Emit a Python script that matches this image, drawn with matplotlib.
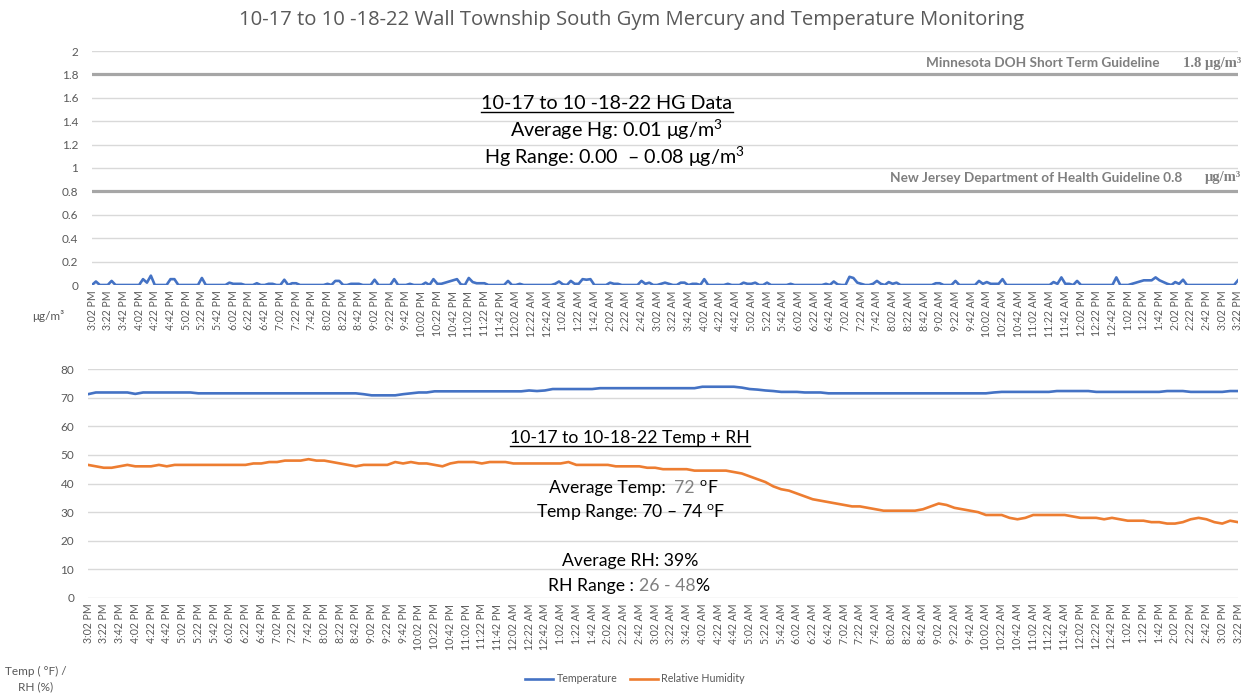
import numpy as np
import matplotlib
matplotlib.use("Agg")
import matplotlib.pyplot as plt
from matplotlib.lines import Line2D

# ---------------- data ----------------
time_labels = [
    "3:02 PM", "3:22 PM", "3:42 PM", "4:02 PM", "4:22 PM", "4:42 PM", "5:02 PM", "5:22 PM", "5:42 PM",
    "6:02 PM", "6:22 PM", "6:42 PM", "7:02 PM", "7:22 PM", "7:42 PM", "8:02 PM", "8:22 PM", "8:42 PM",
    "9:02 PM", "9:22 PM", "9:42 PM", "10:02 PM", "10:22 PM", "10:42 PM", "11:02 PM", "11:22 PM", "11:42 PM",
    "12:02 AM", "12:22 AM", "12:42 AM", "1:02 AM", "1:22 AM", "1:42 AM", "2:02 AM", "2:22 AM", "2:42 AM",
    "3:02 AM", "3:22 AM", "3:42 AM", "4:02 AM", "4:22 AM", "4:42 AM", "5:02 AM", "5:22 AM", "5:42 AM",
    "6:02 AM", "6:22 AM", "6:42 AM", "7:02 AM", "7:22 AM", "7:42 AM", "8:02 AM", "8:22 AM", "8:42 AM",
    "9:02 AM", "9:22 AM", "9:42 AM", "10:02 AM", "10:22 AM", "10:42 AM", "11:02 AM", "11:22 AM", "11:42 AM",
    "12:02 PM", "12:22 PM", "12:42 PM", "1:02 PM", "1:22 PM", "1:42 PM", "2:02 PM", "2:22 PM", "2:42 PM",
    "3:02 PM", "3:22 PM",
]

# mercury, ug/m3, one reading every 5 minutes
hg_values = [
    0, 0.03, 0, 0, 0, 0.035, 0, 0, 0, 0, 0, 0, 0, 0.05, 0.02, 0.08, 0, 0, 0, 0,
    0.05, 0.05, 0, 0, 0, 0, 0, 0, 0.06, 0, 0, 0, 0, 0, 0, 0.02, 0.01, 0.01, 0.01, 0,
    0, 0, 0.015, 0, 0, 0.01, 0.01, 0, 0, 0.045, 0, 0.015, 0.015, 0, 0, 0, 0, 0, 0, 0,
    0.01, 0, 0.035, 0.035, 0, 0, 0.01, 0.01, 0.01, 0, 0, 0, 0.045, 0, 0, 0, 0, 0.05, 0, 0,
    0, 0.01, 0, 0, 0, 0.02, 0, 0.05, 0.01, 0.01, 0.02, 0.03, 0.04, 0.05, 0.005, 0, 0.06, 0.025, 0.015, 0.015,
    0.015, 0, 0, 0, 0, 0, 0.035, 0, 0, 0.01, 0, 0, 0, 0, 0, 0, 0, 0, 0.01, 0.03,
    0.005, 0, 0.035, 0.01, 0.01, 0.05, 0.045, 0.05, 0, 0, 0, 0, 0.02, 0.01, 0.01, 0, 0, 0, 0, 0,
    0.035, 0.01, 0.02, 0, 0, 0.01, 0.02, 0.01, 0, 0, 0.02, 0.02, 0, 0.01, 0.01, 0, 0.05, 0, 0, 0,
    0, 0, 0.01, 0, 0, 0, 0.02, 0.01, 0.01, 0.02, 0, 0, 0.02, 0, 0, 0, 0, 0, 0.01, 0,
    0, 0, 0, 0, 0, 0, 0, 0.01, 0, 0.03, 0.005, 0, 0, 0.07, 0.06, 0.02, 0.01, 0, 0, 0.01,
    0.035, 0.01, 0, 0.025, 0.01, 0.02, 0, 0, 0, 0, 0, 0, 0, 0, 0, 0.015, 0.015, 0, 0, 0,
    0.035, 0, 0, 0, 0, 0, 0.035, 0.01, 0.025, 0.01, 0.01, 0.01, 0.05, 0, 0, 0, 0, 0, 0, 0,
    0, 0, 0, 0, 0, 0.025, 0.01, 0.065, 0.01, 0.01, 0, 0.035, 0, 0, 0, 0, 0, 0, 0, 0,
    0, 0.065, 0, 0, 0, 0.01, 0.02, 0.03, 0.04, 0.04, 0.04, 0.065, 0.04, 0.025, 0.01, 0, 0.025, 0.01, 0.045, 0,
    0, 0, 0, 0, 0, 0, 0, 0, 0, 0, 0, 0, 0.04,
]

# temperature (F) and relative humidity (%), one reading every 10 minutes
temperature = [
    71.2, 71.8, 71.8, 71.8, 71.8, 71.8,   # 3 PM
    71.3, 71.8, 71.8, 71.8, 71.8, 71.8,   # 4 PM
    71.8, 71.8, 71.5, 71.5, 71.5, 71.5,   # 5 PM
    71.5, 71.5, 71.5, 71.5, 71.5, 71.5,   # 6 PM
    71.5, 71.5, 71.5, 71.5, 71.5, 71.5,   # 7 PM
    71.5, 71.5, 71.5, 71.5, 71.5, 71.2,   # 8 PM
    70.8, 70.8, 70.8, 70.8, 71.2, 71.5,   # 9 PM
    71.8, 71.8, 72.2, 72.2, 72.2, 72.2,   # 10 PM
    72.2, 72.2, 72.2, 72.2, 72.2, 72.2,   # 11 PM
    72.2, 72.2, 72.5, 72.3, 72.5, 73.0,   # 12 AM
    73.0, 73.0, 73.0, 73.0, 73.0, 73.3,   # 1 AM
    73.3, 73.3, 73.3, 73.3, 73.3, 73.3,   # 2 AM
    73.3, 73.3, 73.3, 73.3, 73.3, 73.3,   # 3 AM
    73.8, 73.8, 73.8, 73.8, 73.8, 73.5,   # 4 AM
    73.0, 72.8, 72.5, 72.3, 72.0, 72.0,   # 5 AM
    72.0, 71.8, 71.8, 71.8, 71.5, 71.5,   # 6 AM
    71.5, 71.5, 71.5, 71.5, 71.5, 71.5,   # 7 AM
    71.5, 71.5, 71.5, 71.5, 71.5, 71.5,   # 8 AM
    71.5, 71.5, 71.5, 71.5, 71.5, 71.5,   # 9 AM
    71.5, 71.8, 72.0, 72.0, 72.0, 72.0,   # 10 AM
    72.0, 72.0, 72.0, 72.3, 72.3, 72.3,   # 11 AM
    72.3, 72.3, 72.0, 72.0, 72.0, 72.0,   # 12 PM
    72.0, 72.0, 72.0, 72.0, 72.0, 72.3,   # 1 PM
    72.3, 72.3, 72.0, 72.0, 72.0, 72.0,   # 2 PM
    72.0, 72.3, 72.3,                     # 3 PM
]

humidity = [
    46.5, 46.0, 45.5, 45.5, 46.0, 46.5,   # 3 PM
    46.0, 46.0, 46.0, 46.5, 46.0, 46.5,   # 4 PM
    46.5, 46.5, 46.5, 46.5, 46.5, 46.5,   # 5 PM
    46.5, 46.5, 46.5, 47.0, 47.0, 47.5,   # 6 PM
    47.5, 48.0, 48.0, 48.0, 48.5, 48.0,   # 7 PM
    48.0, 47.5, 47.0, 46.5, 46.0, 46.5,   # 8 PM
    46.5, 46.5, 46.5, 47.5, 47.0, 47.5,   # 9 PM
    47.0, 47.0, 46.5, 46.0, 47.0, 47.5,   # 10 PM
    47.5, 47.5, 47.0, 47.5, 47.5, 47.5,   # 11 PM
    47.0, 47.0, 47.0, 47.0, 47.0, 47.0,   # 12 AM
    47.0, 47.5, 46.5, 46.5, 46.5, 46.5,   # 1 AM
    46.5, 46.0, 46.0, 46.0, 46.0, 45.5,   # 2 AM
    45.5, 45.0, 45.0, 45.0, 45.0, 44.5,   # 3 AM
    44.5, 44.5, 44.5, 44.5, 44.0, 43.5,   # 4 AM
    42.5, 41.5, 40.5, 39.0, 38.0, 37.5,   # 5 AM
    36.5, 35.5, 34.5, 34.0, 33.5, 33.0,   # 6 AM
    32.5, 32.0, 32.0, 31.5, 31.0, 30.5,   # 7 AM
    30.5, 30.5, 30.5, 30.5, 31.0, 32.0,   # 8 AM
    33.0, 32.5, 31.5, 31.0, 30.5, 30.0,   # 9 AM
    29.0, 29.0, 29.0, 28.0, 27.5, 28.0,   # 10 AM
    29.0, 29.0, 29.0, 29.0, 29.0, 28.5,   # 11 AM
    28.0, 28.0, 28.0, 27.5, 28.0, 27.5,   # 12 PM
    27.0, 27.0, 27.0, 26.5, 26.5, 26.0,   # 1 PM
    26.0, 26.5, 27.5, 28.0, 27.5, 26.5,   # 2 PM
    26.0, 27.0, 26.5,                     # 3 PM
]

guidelines = [1.8, 0.8]

# ---------------- styling ----------------
HG_STEP, TR_STEP, LABEL_STEP = 5, 10, 20
BLUE, ORANGE = "#4472C4", "#ED7D31"
GRID, TXT = "#d9d9d9", "#595959"
FONT = ["Lato", "DejaVu Sans"]
plt.rcParams["font.family"] = FONT
plt.rcParams["mathtext.fontset"] = "custom"
plt.rcParams["mathtext.rm"] = "Lato"
plt.rcParams["mathtext.it"] = "Lato:italic"
plt.rcParams["mathtext.bf"] = "Lato:bold"
plt.rcParams["mathtext.default"] = "regular"

hg_x = np.arange(len(hg_values)) * HG_STEP
tr_x = np.arange(len(temperature)) * TR_STEP
tick_x = np.arange(len(time_labels)) * LABEL_STEP
xmax = tick_x[-1]

W, H = 1247, 694
fig = plt.figure(figsize=(W / 100, H / 100), dpi=100)


def box(l, r, t, b):
    return [l / W, 1 - b / H, (r - l) / W, (b - t) / H]


def fx(px):
    return px / W


def fy(py):
    return 1 - py / H


def style_axis(ax, yticks, ylabels):
    ax.set_xlim(0, xmax)
    ax.set_yticks(yticks)
    ax.set_yticklabels(ylabels)
    ax.set_xticks(tick_x)
    ax.set_xticklabels(time_labels, rotation=90, fontsize=7.6, color=TXT)
    ax.tick_params(axis="both", length=0, pad=4)
    ax.tick_params(axis="y", labelsize=8.5, labelcolor=TXT, pad=10)
    ax.yaxis.grid(True, color=GRID, lw=1.0)
    ax.set_axisbelow(True)
    for s in ax.spines.values():
        s.set_visible(False)


# ---------------- top: mercury ----------------
ax1 = fig.add_axes(box(92, 1238, 51, 285))
ax1.plot(hg_x, hg_values, color=BLUE, lw=1.9, solid_joinstyle="round")
ax1.set_ylim(0, 2)
yt1 = np.round(np.arange(0, 2.01, 0.2), 1)
style_axis(ax1, yt1, [f"{v:g}" for v in yt1])
for g in guidelines:
    ax1.axhline(g, color="#a6a6a6", lw=2.3, zorder=1)

# ---------------- bottom: temp + RH ----------------
ax2 = fig.add_axes(box(88, 1238, 369, 598))
lt, = ax2.plot(tr_x, temperature, color=BLUE, lw=1.9, solid_joinstyle="round")
lh, = ax2.plot(tr_x, humidity, color=ORANGE, lw=1.9, solid_joinstyle="round")
ax2.set_ylim(0, 80)
yt2 = np.arange(0, 81, 10)
style_axis(ax2, yt2, [str(v) for v in yt2])

# ---------------- texts ----------------
fig.text(fx(632), fy(20),
         "10-17 to 10 -18-22 Wall Township South Gym Mercury and Temperature Monitoring",
         ha="center", va="center", fontsize=14.6, color=TXT, family=["Open Sans", "DejaVu Sans"])

renderer = fig.canvas.get_renderer()


def text_width(s, **kw):
    t = fig.text(0, 0, s + "I", **kw)
    w = t.get_window_extent(renderer).width
    t.remove()
    t = fig.text(0, 0, "I", **kw)
    w0 = t.get_window_extent(renderer).width
    t.remove()
    return w - w0


def multi_text(xc, yc, parts, underline=False, **kw):
    full = "".join(p for p, _ in parts)
    total = text_width(full, **kw)
    x0 = xc - total / 2
    prefix = ""
    for s, c in parts:
        off = text_width(prefix, **kw) if prefix else 0.0
        fig.text(fx(x0 + off), fy(yc), s, color=c, ha="left", va="baseline", **kw)
        prefix += s
    if underline:
        fig.add_artist(Line2D([fx(x0), fx(x0 + total)], [fy(yc + 2.5), fy(yc + 2.5)],
                              color="black", lw=1.0, transform=fig.transFigure))


BIG = dict(fontsize=14.2, family=FONT)
multi_text(607, 109, [("10-17 to 10 -18-22 HG Data", "black")], underline=True, **BIG)
multi_text(616, 137, [("Average Hg: 0.01 μg/m$^{3}$", "black")], **BIG)
multi_text(614, 164, [("Hg Range: 0.00  – 0.08 μg/m$^{3}$", "black")], **BIG)

MID = dict(fontsize=12.7, family=FONT)
multi_text(630, 443, [("10-17 to 10-18-22 Temp + RH", "black")], underline=True, **MID)
multi_text(633, 493, [("Average Temp:  ", "black"), ("72", "#7f7f7f"), (" $^{o}$F", "black")], **MID)
multi_text(630, 517, [("Temp Range: 70 – 74 $^{o}$F", "black")], **MID)
multi_text(630, 566, [("Average RH: 39%", "black")], **MID)
multi_text(629, 591, [("RH Range : ", "black"), ("26 - 48", "#7f7f7f"), ("%", "black")], **MID)

# guideline labels
GL = dict(color="#7f7f7f", fontweight="bold", va="center")
SERIF = ["Liberation Serif", "DejaVu Serif"]
fig.text(fx(1160), fy(63), "Minnesota DOH Short Term Guideline", ha="right", family=FONT,
         fontsize=9.8, **GL)
fig.text(fx(1241), fy(63), "1.8 μg/m³", ha="right", family=SERIF, fontsize=10.5, **GL)
fig.text(fx(1182), fy(178), "New Jersey Department of Health Guideline 0.8", ha="right",
         family=FONT, fontsize=9.8, **GL)
fig.text(fx(1241), fy(178), "μg/m³", ha="right", family=SERIF, fontsize=10.5, **GL)

# axis titles
fig.text(fx(48), fy(316), "μg/m³", ha="center", va="center", fontsize=8.5, color=TXT)
fig.text(fx(36), fy(679), "Temp ( °F) /\nRH (%)", ha="center", va="center",
         fontsize=8.5, color=TXT, linespacing=1.5)

# legend
fig.legend([lt, lh], ["Temperature", "Relative Humidity"], loc="center",
           bbox_to_anchor=(fx(635), fy(679)), ncol=2, frameon=False, fontsize=7.7,
           labelcolor=TXT, handlelength=2.6, columnspacing=1.2, handletextpad=0.3)

fig.savefig("out.png", dpi=100)
